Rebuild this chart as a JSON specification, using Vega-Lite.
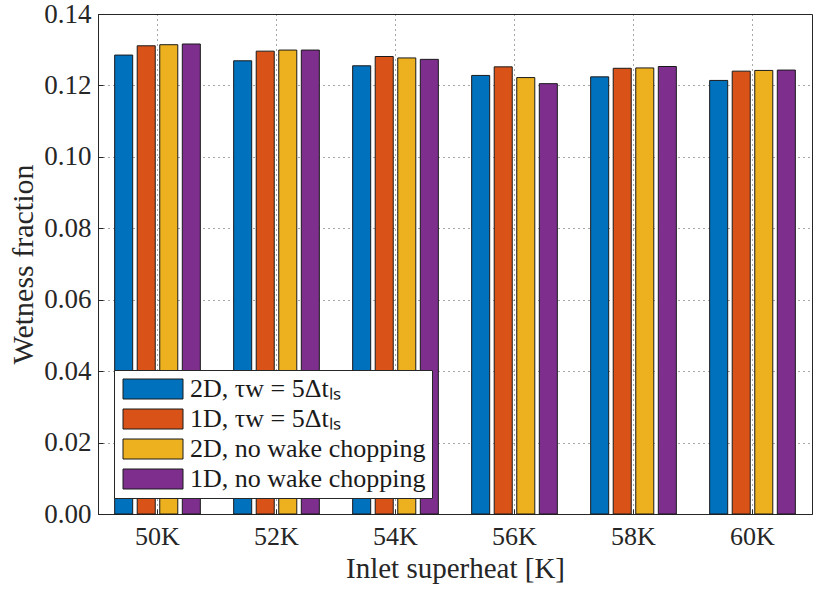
{
  "$schema": "https://vega.github.io/schema/vega-lite/v6.json",
  "width": 714,
  "height": 500,
  "autosize": {"type": "none"},
  "padding": {"left": 98, "top": 14, "right": 1, "bottom": 78},
  "background": "white",
  "data": {
    "values": [
      {"sh": "50K", "s": "2D, τw = 5Δtₗₛ", "k": 0, "v": 0.1285},
      {"sh": "50K", "s": "1D, τw = 5Δtₗₛ", "k": 1, "v": 0.1311},
      {"sh": "50K", "s": "2D, no wake chopping", "k": 2, "v": 0.1314},
      {"sh": "50K", "s": "1D, no wake chopping", "k": 3, "v": 0.1316},
      {"sh": "52K", "s": "2D, τw = 5Δtₗₛ", "k": 0, "v": 0.1269},
      {"sh": "52K", "s": "1D, τw = 5Δtₗₛ", "k": 1, "v": 0.1296},
      {"sh": "52K", "s": "2D, no wake chopping", "k": 2, "v": 0.1299},
      {"sh": "52K", "s": "1D, no wake chopping", "k": 3, "v": 0.1299},
      {"sh": "54K", "s": "2D, τw = 5Δtₗₛ", "k": 0, "v": 0.1255},
      {"sh": "54K", "s": "1D, τw = 5Δtₗₛ", "k": 1, "v": 0.1281},
      {"sh": "54K", "s": "2D, no wake chopping", "k": 2, "v": 0.1277},
      {"sh": "54K", "s": "1D, no wake chopping", "k": 3, "v": 0.1273},
      {"sh": "56K", "s": "2D, τw = 5Δtₗₛ", "k": 0, "v": 0.1228},
      {"sh": "56K", "s": "1D, τw = 5Δtₗₛ", "k": 1, "v": 0.1252},
      {"sh": "56K", "s": "2D, no wake chopping", "k": 2, "v": 0.1222},
      {"sh": "56K", "s": "1D, no wake chopping", "k": 3, "v": 0.1205},
      {"sh": "58K", "s": "2D, τw = 5Δtₗₛ", "k": 0, "v": 0.1224},
      {"sh": "58K", "s": "1D, τw = 5Δtₗₛ", "k": 1, "v": 0.1248},
      {"sh": "58K", "s": "2D, no wake chopping", "k": 2, "v": 0.1249},
      {"sh": "58K", "s": "1D, no wake chopping", "k": 3, "v": 0.1253},
      {"sh": "60K", "s": "2D, τw = 5Δtₗₛ", "k": 0, "v": 0.1214},
      {"sh": "60K", "s": "1D, τw = 5Δtₗₛ", "k": 1, "v": 0.1240},
      {"sh": "60K", "s": "2D, no wake chopping", "k": 2, "v": 0.1242},
      {"sh": "60K", "s": "1D, no wake chopping", "k": 3, "v": 0.1243}
    ]
  },
  "mark": {"type": "bar", "stroke": "#1a1a1a", "strokeWidth": 1, "opacity": 1},
  "encoding": {
    "x": {
      "field": "sh", "type": "nominal",
      "scale": {"paddingInner": 0.28, "paddingOuter": 0.14},
      "axis": {
        "title": "Inlet superheat [K]",
        "labelAngle": 0,
        "grid": true,
        "bandPosition": 0.5,
        "gridDash": [1, 4],
        "gridColor": "#262626",
        "gridOpacity": 0.8,
        "tickSize": -5,
        "tickColor": "#262626",
        "domainColor": "#262626",
        "labelPadding": 14,
        "labelFontSize": 26,
        "titleFontSize": 29,
        "titleFontWeight": "normal",
        "titlePadding": 5
      }
    },
    "xOffset": {"field": "k", "type": "ordinal", "scale": {"paddingInner": 0.2}},
    "y": {
      "field": "v", "type": "quantitative",
      "scale": {"domain": [0, 0.14], "nice": false},
      "axis": {
        "title": "Wetness fraction",
        "values": [0, 0.02, 0.04, 0.06, 0.08, 0.1, 0.12, 0.14],
        "format": ".2f",
        "grid": true,
        "gridDash": [1, 4],
        "gridColor": "#262626",
        "gridOpacity": 0.8,
        "tickSize": -5,
        "tickColor": "#262626",
        "domainColor": "#262626",
        "labelPadding": 12,
        "labelFontSize": 27,
        "titleFontSize": 30,
        "titleFontWeight": "normal",
        "titlePadding": 5
      }
    },
    "color": {
      "field": "s", "type": "nominal",
      "scale": {
        "domain": ["2D, τw = 5Δtₗₛ", "1D, τw = 5Δtₗₛ", "2D, no wake chopping", "1D, no wake chopping"],
        "range": ["#0072BD", "#D95319", "#EDB120", "#7E2F8E"]
      },
      "legend": {
        "title": null,
        "orient": "bottom-left",
        "offset": 16,
        "fillColor": "white",
        "strokeColor": "#262626",
        "padding": 6,
        "labelFontSize": 26,
        "labelLimit": 400,
        "symbolType": "M-3,-1H3V1H-3Z",
        "symbolSize": 400,
        "symbolOffset": 20,
        "symbolStrokeColor": "#1a1a1a",
        "symbolStrokeWidth": 1,
        "symbolOpacity": 1,
        "rowPadding": 4,
        "labelOffset": 24
      }
    }
  },
  "config": {
    "font": "Liberation Serif, Times New Roman, serif",
    "view": {"stroke": "#262626", "strokeWidth": 1},
    "axis": {"labelColor": "#262626", "titleColor": "#262626", "labelFont": "Liberation Serif, serif", "titleFont": "Liberation Serif, serif"},
    "legend": {"labelColor": "#1a1a1a", "labelFont": "Liberation Serif, serif"}
  }
}
